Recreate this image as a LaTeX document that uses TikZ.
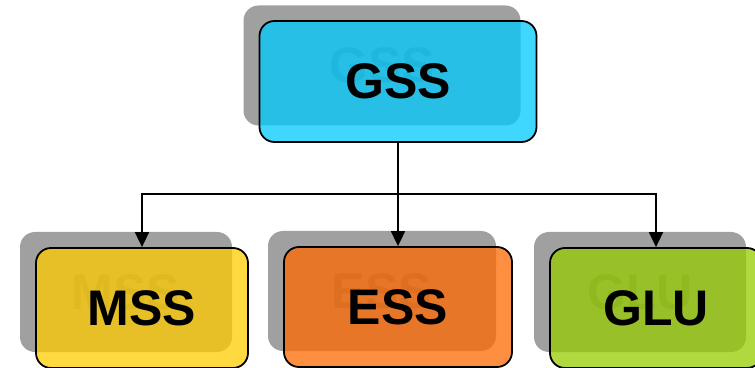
\documentclass[tikz,border=0pt]{standalone}
\usepackage{fontspec}
\setmainfont{Liberation Sans}
\usepackage{xcolor}
\usepackage{tikz}
\usetikzlibrary{arrows.meta}

\definecolor{shadowgray}{RGB}{160,160,160}
\definecolor{ghostgray}{RGB}{130,130,130}
\definecolor{gsscol}{RGB}{0,202,255}
\definecolor{msscol}{RGB}{255,204,0}
\definecolor{esscol}{RGB}{255,105,0}
\definecolor{glucol}{RGB}{150,204,0}

\begin{document}
\begin{tikzpicture}[x=1pt,y=1pt,
	ghost/.style={fill=shadowgray,text=ghostgray,rounded corners=15pt,inner sep=0pt,
		minimum height=120pt,font=\fontsize{50}{50}\selectfont\bfseries},
	unit/.style={draw,line width=1.8pt,fill opacity=0.75,text opacity=1,rounded corners=15pt,
		inner sep=0pt,minimum height=120pt,font=\fontsize{50}{50}\selectfont\bfseries}]
		\useasboundingbox (0,0) rectangle (755,367);
		% shadows
		\node[ghost,minimum width=277pt] (gssg) at (382,301.5) {GSS};
		\node[ghost,minimum width=212pt] (mssg) at (126,75) {MSS};
		\node[ghost,minimum width=228pt] (essg) at (382,76) {ESS};
		\node[ghost,minimum width=212pt] (glug) at (640,75) {GLU};
		% boxes
		\node[unit,fill=gsscol,minimum width=277pt,minimum height=121pt] (gss) at (398,285.5) {GSS};
		\node[unit,fill=msscol,minimum width=212pt] (mss) at (142,59) {MSS};
		\node[unit,fill=esscol,minimum width=228pt] (ess) at (398,60) {ESS};
		\node[unit,fill=glucol,minimum width=212pt] (glu) at (656,59) {GLU};
		%
		\coordinate (mid) at (gss.south |- 0,173);
		\path[->,line width=1.8pt,>={Triangle[length=15pt,width=14pt]}]
		(gss.south) edge (ess.north)
		(mid) edge[to path={-| (\tikztotarget)}] (mss.north)
		(mid) edge[to path={-| (\tikztotarget)}] (glu.north);
	\end{tikzpicture}
\end{document}
